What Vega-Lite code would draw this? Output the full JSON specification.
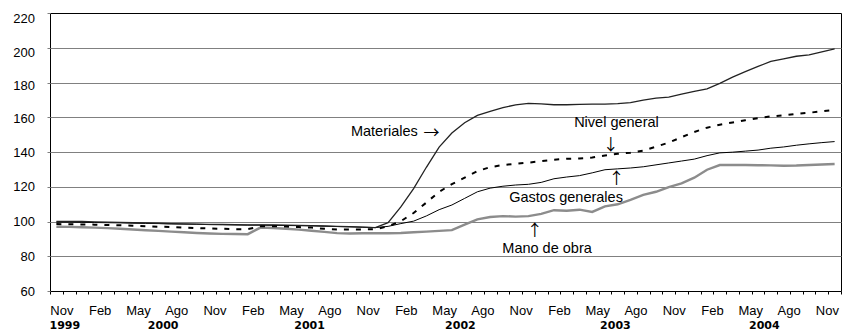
{
  "$schema": "https://vega.github.io/schema/vega-lite/v6.json",
  "width": 791,
  "height": 278,
  "autosize": {"type": "none"},
  "padding": {"left": 50, "top": 13, "right": 1, "bottom": 42},
  "background": "white",
  "config": {"view": {"stroke": "#000", "strokeWidth": 1}, "font": "Liberation Sans"},
  "data": {"values": [
    {"t": 0, "mes": "Nov 1999", "materiales": 100.0, "nivel": 98.5, "gastos": 99.6, "mano": 97.0},
    {"t": 1, "mes": "Dic 1999", "materiales": 100.0, "nivel": 98.4, "gastos": 99.6, "mano": 96.9},
    {"t": 2, "mes": "Ene 2000", "materiales": 100.0, "nivel": 98.3, "gastos": 99.5, "mano": 96.7},
    {"t": 3, "mes": "Feb 2000", "materiales": 99.8, "nivel": 98.2, "gastos": 99.4, "mano": 96.5},
    {"t": 4, "mes": "Mar 2000", "materiales": 99.6, "nivel": 98.0, "gastos": 99.3, "mano": 96.2},
    {"t": 5, "mes": "Abr 2000", "materiales": 99.5, "nivel": 97.8, "gastos": 99.2, "mano": 95.8},
    {"t": 6, "mes": "May 2000", "materiales": 99.3, "nivel": 97.6, "gastos": 99.0, "mano": 95.4},
    {"t": 7, "mes": "Jun 2000", "materiales": 99.2, "nivel": 97.3, "gastos": 98.9, "mano": 95.0},
    {"t": 8, "mes": "Jul 2000", "materiales": 99.0, "nivel": 97.0, "gastos": 98.8, "mano": 94.6},
    {"t": 9, "mes": "Ago 2000", "materiales": 98.8, "nivel": 96.8, "gastos": 98.6, "mano": 94.2},
    {"t": 10, "mes": "Sep 2000", "materiales": 98.6, "nivel": 96.5, "gastos": 98.5, "mano": 93.8},
    {"t": 11, "mes": "Oct 2000", "materiales": 98.5, "nivel": 96.2, "gastos": 98.4, "mano": 93.4},
    {"t": 12, "mes": "Nov 2000", "materiales": 98.4, "nivel": 96.0, "gastos": 98.2, "mano": 93.1},
    {"t": 13, "mes": "Dic 2000", "materiales": 98.3, "nivel": 95.8, "gastos": 98.1, "mano": 92.9},
    {"t": 14, "mes": "Ene 2001", "materiales": 98.2, "nivel": 95.6, "gastos": 98.0, "mano": 92.8},
    {"t": 15, "mes": "Feb 2001", "materiales": 98.1, "nivel": 95.6, "gastos": 97.9, "mano": 92.7},
    {"t": 16, "mes": "Mar 2001", "materiales": 98.0, "nivel": 97.2, "gastos": 97.9, "mano": 96.5},
    {"t": 17, "mes": "Abr 2001", "materiales": 98.0, "nivel": 97.3, "gastos": 97.8, "mano": 96.3},
    {"t": 18, "mes": "May 2001", "materiales": 97.9, "nivel": 97.1, "gastos": 97.7, "mano": 95.8},
    {"t": 19, "mes": "Jun 2001", "materiales": 97.8, "nivel": 96.8, "gastos": 97.6, "mano": 95.3},
    {"t": 20, "mes": "Jul 2001", "materiales": 97.6, "nivel": 96.5, "gastos": 97.5, "mano": 94.7},
    {"t": 21, "mes": "Ago 2001", "materiales": 97.4, "nivel": 95.8, "gastos": 97.3, "mano": 94.0},
    {"t": 22, "mes": "Sep 2001", "materiales": 97.2, "nivel": 95.4, "gastos": 97.1, "mano": 93.3},
    {"t": 23, "mes": "Oct 2001", "materiales": 97.0, "nivel": 95.4, "gastos": 96.9, "mano": 93.1},
    {"t": 24, "mes": "Nov 2001", "materiales": 96.8, "nivel": 95.4, "gastos": 96.7, "mano": 93.2},
    {"t": 25, "mes": "Dic 2001", "materiales": 96.5, "nivel": 95.6, "gastos": 96.5, "mano": 93.3},
    {"t": 26, "mes": "Ene 2002", "materiales": 99.3, "nivel": 97.2, "gastos": 97.2, "mano": 93.2},
    {"t": 27, "mes": "Feb 2002", "materiales": 108.4, "nivel": 100.2, "gastos": 98.8, "mano": 93.4},
    {"t": 28, "mes": "Mar 2002", "materiales": 118.9, "nivel": 104.9, "gastos": 100.2, "mano": 93.8},
    {"t": 29, "mes": "Abr 2002", "materiales": 131.2, "nivel": 110.9, "gastos": 103.2, "mano": 94.2},
    {"t": 30, "mes": "May 2002", "materiales": 142.8, "nivel": 117.1, "gastos": 106.8, "mano": 94.6},
    {"t": 31, "mes": "Jun 2002", "materiales": 150.9, "nivel": 121.5, "gastos": 109.5, "mano": 95.0},
    {"t": 32, "mes": "Jul 2002", "materiales": 156.8, "nivel": 125.2, "gastos": 113.3, "mano": 98.2},
    {"t": 33, "mes": "Ago 2002", "materiales": 161.1, "nivel": 129.0, "gastos": 117.1, "mano": 101.2},
    {"t": 34, "mes": "Sep 2002", "materiales": 163.4, "nivel": 131.3, "gastos": 119.2, "mano": 102.6},
    {"t": 35, "mes": "Oct 2002", "materiales": 165.6, "nivel": 132.5, "gastos": 120.3, "mano": 103.1},
    {"t": 36, "mes": "Nov 2002", "materiales": 167.1, "nivel": 133.2, "gastos": 121.0, "mano": 102.8},
    {"t": 37, "mes": "Dic 2002", "materiales": 168.0, "nivel": 133.9, "gastos": 121.4, "mano": 103.1},
    {"t": 38, "mes": "Ene 2003", "materiales": 167.7, "nivel": 134.7, "gastos": 122.5, "mano": 104.4},
    {"t": 39, "mes": "Feb 2003", "materiales": 167.2, "nivel": 135.6, "gastos": 124.6, "mano": 106.5},
    {"t": 40, "mes": "Mar 2003", "materiales": 167.2, "nivel": 136.1, "gastos": 125.6, "mano": 106.2},
    {"t": 41, "mes": "Abr 2003", "materiales": 167.4, "nivel": 136.3, "gastos": 126.4, "mano": 106.8},
    {"t": 42, "mes": "May 2003", "materiales": 167.6, "nivel": 136.8, "gastos": 128.0, "mano": 105.5},
    {"t": 43, "mes": "Jun 2003", "materiales": 167.6, "nivel": 138.0, "gastos": 129.8, "mano": 108.7},
    {"t": 44, "mes": "Jul 2003", "materiales": 167.8, "nivel": 139.0, "gastos": 130.3, "mano": 109.9},
    {"t": 45, "mes": "Ago 2003", "materiales": 168.4, "nivel": 139.6, "gastos": 130.8, "mano": 112.4},
    {"t": 46, "mes": "Sep 2003", "materiales": 169.8, "nivel": 140.8, "gastos": 131.5, "mano": 115.3},
    {"t": 47, "mes": "Oct 2003", "materiales": 171.0, "nivel": 143.1, "gastos": 132.6, "mano": 117.1},
    {"t": 48, "mes": "Nov 2003", "materiales": 171.6, "nivel": 145.4, "gastos": 133.7, "mano": 119.8},
    {"t": 49, "mes": "Dic 2003", "materiales": 173.3, "nivel": 148.5, "gastos": 134.8, "mano": 122.0},
    {"t": 50, "mes": "Ene 2004", "materiales": 174.9, "nivel": 151.5, "gastos": 135.9, "mano": 125.2},
    {"t": 51, "mes": "Feb 2004", "materiales": 176.3, "nivel": 154.0, "gastos": 137.9, "mano": 129.8},
    {"t": 52, "mes": "Mar 2004", "materiales": 179.5, "nivel": 155.7, "gastos": 139.5, "mano": 132.5},
    {"t": 53, "mes": "Abr 2004", "materiales": 183.1, "nivel": 157.0, "gastos": 139.9, "mano": 132.5},
    {"t": 54, "mes": "May 2004", "materiales": 186.3, "nivel": 158.3, "gastos": 140.5, "mano": 132.5},
    {"t": 55, "mes": "Jun 2004", "materiales": 189.3, "nivel": 159.5, "gastos": 141.1, "mano": 132.4},
    {"t": 56, "mes": "Jul 2004", "materiales": 192.1, "nivel": 160.5, "gastos": 142.2, "mano": 132.3},
    {"t": 57, "mes": "Ago 2004", "materiales": 193.6, "nivel": 161.1, "gastos": 142.9, "mano": 132.1},
    {"t": 58, "mes": "Sep 2004", "materiales": 195.1, "nivel": 161.9, "gastos": 143.9, "mano": 132.2},
    {"t": 59, "mes": "Oct 2004", "materiales": 195.9, "nivel": 162.6, "gastos": 144.7, "mano": 132.5},
    {"t": 60, "mes": "Nov 2004", "materiales": 197.6, "nivel": 163.4, "gastos": 145.4, "mano": 132.8},
    {"t": 61, "mes": "Dic 2004", "materiales": 199.3, "nivel": 164.2, "gastos": 146.0, "mano": 133.1}
  ]},
  "resolve": {"axis": {"x": "independent", "y": "independent"}},
  "layer": [
    {
      "mark": {"type": "line", "color": "#8c8c8c", "strokeWidth": 2.4},
      "encoding": {
        "x": {"field": "t", "type": "quantitative",
          "scale": {"domain": [-0.5, 61.5], "nice": false, "zero": false},
          "axis": {"orient": "bottom", "title": null,
            "values": [0, 3, 6, 9, 12, 15, 18, 21, 24, 27, 30, 33, 36, 39, 42, 45, 48, 51, 54, 57, 60],
            "labelExpr": "['Nov','Feb','May','Ago'][(datum.value/3)%4]",
            "ticks": false, "tickSize": 0, "domain": false, "grid": false,
            "labelFont": "Liberation Sans", "labelFontSize": 13, "labelColor": "#000",
            "labelPadding": 13, "labelOffset": 5, "labelFlush": false, "labelOverlap": false, "labelBound": false}},
        "y": {"field": "mano", "type": "quantitative",
          "scale": {"domain": [60, 220], "nice": false, "zero": false},
          "axis": {"orient": "left", "title": null,
            "values": [60, 80, 100, 120, 140, 160, 180, 200, 220],
            "domain": false, "grid": true, "gridColor": "#808080", "gridWidth": 1,
            "gridOpacity": {"condition": {"test": "datum.value == 220 || datum.value == 60", "value": 0}, "value": 1},
            "tickColor": "#808080", "tickSize": 3, "labelPadding": 12.5,
            "labelOffset": {"condition": [{"test": "datum.value == 220", "value": 5.5}, {"test": "datum.value == 200", "value": 5}, {"test": "datum.value == 180", "value": 2.5}, {"test": "datum.value == 160", "value": 1}], "value": 0},
            "labelFont": "Liberation Sans", "labelFontSize": 13, "labelColor": "#000",
            "labelFlush": false, "labelOverlap": false, "labelBound": false}}
      }
    },
    {
      "mark": {"type": "line", "color": "#000", "strokeWidth": 1},
      "encoding": {
        "x": {"field": "t", "type": "quantitative",
          "axis": {"orient": "bottom", "title": null,
            "values": [-0.5, 0.5, 1.5, 2.5, 3.5, 4.5, 5.5, 6.5, 7.5, 8.5, 9.5, 10.5, 11.5, 12.5, 13.5, 14.5, 15.5, 16.5, 17.5, 18.5, 19.5, 20.5, 21.5, 22.5, 23.5, 24.5, 25.5, 26.5, 27.5, 28.5, 29.5, 30.5, 31.5, 32.5, 33.5, 34.5, 35.5, 36.5, 37.5, 38.5, 39.5, 40.5, 41.5, 42.5, 43.5, 44.5, 45.5, 46.5, 47.5, 48.5, 49.5, 50.5, 51.5, 52.5, 53.5, 54.5, 55.5, 56.5, 57.5, 58.5, 59.5, 60.5, 61.5],
            "labels": false, "domain": false, "grid": false, "ticks": true,
            "tickSize": 3, "tickColor": "#000", "tickWidth": 1}},
        "y": {"field": "gastos", "type": "quantitative", "axis": null}
      }
    },
    {
      "mark": {"type": "line", "color": "#222", "strokeWidth": 1.3},
      "encoding": {
        "x": {"field": "t", "type": "quantitative",
          "axis": {"orient": "bottom", "title": null,
            "values": [0.62, 8.33, 19.81, 31.63, 43.78, 55.45],
            "labelExpr": "datum.value < 1 ? '1999' : datum.value < 10 ? '2000' : datum.value < 20 ? '2001' : datum.value < 32 ? '2002' : datum.value < 44 ? '2003' : '2004'",
            "ticks": false, "tickSize": 0, "domain": false, "grid": false,
            "labelFont": "DejaVu Sans", "labelFontWeight": "bold", "labelFontSize": 11, "labelColor": "#000",
            "labelPadding": 28.6, "labelFlush": false, "labelOverlap": false, "labelBound": false}},
        "y": {"field": "materiales", "type": "quantitative", "axis": null}
      }
    },
    {
      "mark": {"type": "line", "color": "#000", "strokeWidth": 2, "strokeDash": [5, 7]},
      "encoding": {
        "x": {"field": "t", "type": "quantitative", "axis": null},
        "y": {"field": "nivel", "type": "quantitative", "axis": null}
      }
    },
    {
      "data": {"values": [{}]},
      "mark": {"type": "text", "text": "Materiales", "font": "Liberation Sans", "fontSize": 14.5, "align": "center", "baseline": "alphabetic", "color": "#000"},
      "encoding": {
        "x": {"datum": 25.71, "type": "quantitative", "axis": null},
        "y": {"datum": 149.2, "type": "quantitative", "axis": null}
      }
    },
    {
      "data": {"values": [{}]},
      "mark": {"type": "text", "text": "→", "font": "Noto Sans CJK JP", "fontSize": 16, "align": "center", "baseline": "middle", "color": "#000"},
      "encoding": {
        "x": {"datum": 29.4, "type": "quantitative", "axis": null},
        "y": {"datum": 150.8, "type": "quantitative", "axis": null}
      }
    },
    {
      "data": {"values": [{}]},
      "mark": {"type": "text", "text": "Nivel general", "font": "Liberation Sans", "fontSize": 14.5, "align": "center", "baseline": "alphabetic", "color": "#000"},
      "encoding": {
        "x": {"datum": 43.9, "type": "quantitative", "axis": null},
        "y": {"datum": 154.3, "type": "quantitative", "axis": null}
      }
    },
    {
      "data": {"values": [{}]},
      "mark": {"type": "text", "text": "↓", "font": "Noto Sans CJK JP", "fontSize": 16, "align": "center", "baseline": "middle", "color": "#000"},
      "encoding": {
        "x": {"datum": 43.46, "type": "quantitative", "axis": null},
        "y": {"datum": 143.8, "type": "quantitative", "axis": null}
      }
    },
    {
      "data": {"values": [{}]},
      "mark": {"type": "text", "text": "Gastos generales", "font": "Liberation Sans", "fontSize": 14.5, "align": "center", "baseline": "alphabetic", "color": "#000"},
      "encoding": {
        "x": {"datum": 39.95, "type": "quantitative", "axis": null},
        "y": {"datum": 111.2, "type": "quantitative", "axis": null}
      }
    },
    {
      "data": {"values": [{}]},
      "mark": {"type": "text", "text": "↑", "font": "Noto Sans CJK JP", "fontSize": 16, "align": "center", "baseline": "middle", "color": "#000"},
      "encoding": {
        "x": {"datum": 43.9, "type": "quantitative", "axis": null},
        "y": {"datum": 124.2, "type": "quantitative", "axis": null}
      }
    },
    {
      "data": {"values": [{}]},
      "mark": {"type": "text", "text": "Mano de obra", "font": "Liberation Sans", "fontSize": 14.5, "align": "center", "baseline": "alphabetic", "color": "#000"},
      "encoding": {
        "x": {"datum": 38.46, "type": "quantitative", "axis": null},
        "y": {"datum": 81.6, "type": "quantitative", "axis": null}
      }
    },
    {
      "data": {"values": [{}]},
      "mark": {"type": "text", "text": "↑", "font": "Noto Sans CJK JP", "fontSize": 16, "align": "center", "baseline": "middle", "color": "#000"},
      "encoding": {
        "x": {"datum": 37.5, "type": "quantitative", "axis": null},
        "y": {"datum": 94.6, "type": "quantitative", "axis": null}
      }
    }
  ]
}
